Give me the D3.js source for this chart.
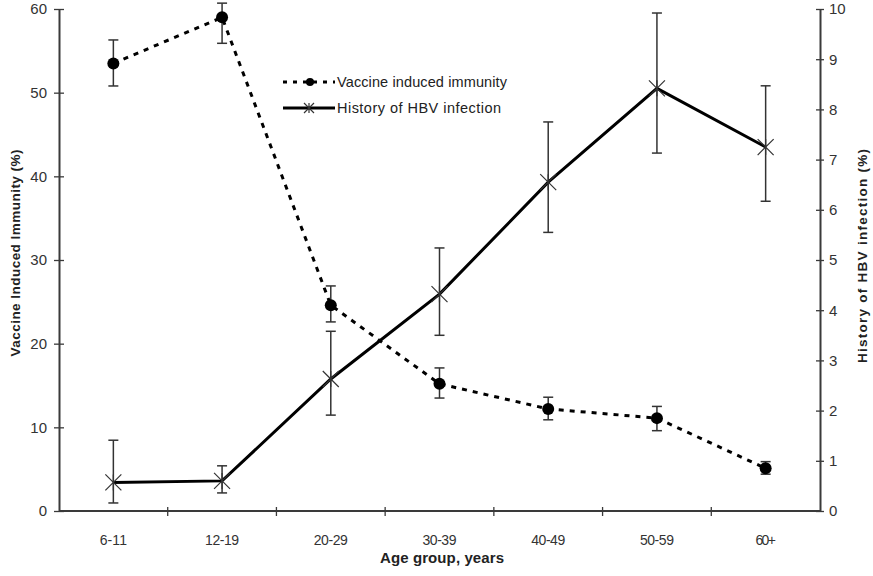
<!DOCTYPE html>
<html>
<head>
<meta charset="utf-8">
<script src="https://cdn.jsdelivr.net/npm/d3@7"></script>
<style>
  body { margin: 0; background: #fff; }
  svg { display: block; font-family: "Liberation Sans", Arial, sans-serif; }
</style>
</head>
<body>
<svg id="chart" width="873" height="576"></svg>
<script>
// age groups on the x axis
const ageGroups = ["6-11", "12-19", "20-29", "30-39", "40-49", "50-59", "60+"];

// vaccine induced immunity (%), left axis
const vaccine = [53.5, 59.0, 24.6, 15.2, 12.2, 11.1, 5.1];
const vaccineLow = [50.8, 55.9, 22.6, 13.5, 10.9, 9.6, 4.4];
const vaccineHigh = [56.3, 60.7, 26.9, 17.1, 13.6, 12.5, 5.9];

// history of HBV infection (%), right axis
const hbv = [0.57, 0.6, 2.63, 4.32, 6.55, 8.42, 7.25];
const hbvLow = [0.16, 0.36, 1.91, 3.5, 5.55, 7.13, 6.17];
const hbvHigh = [1.41, 0.9, 3.58, 5.24, 7.75, 9.92, 8.47];

const leftTicks = [0, 10, 20, 30, 40, 50, 60];
const rightTicks = [0, 1, 2, 3, 4, 5, 6, 7, 8, 9, 10];

const margin = { top: 9, right: 53, bottom: 65, left: 59 },
  width = 873,
  height = 576;

const svg = d3.select("#chart");
const axisColor = "#3a3a3a";

const x = d3.scaleBand(ageGroups, [margin.left, width - margin.right]).padding(0);
const cx = (d) => x(d) + x.bandwidth() / 2;
const yL = d3.scaleLinear([0, 60], [height - margin.bottom, margin.top]);
const yR = d3.scaleLinear([0, 10], [height - margin.bottom, margin.top]);

// x axis: ticks between categories
const xAxis = svg.append("g")
  .attr("transform", `translate(0,${height - margin.bottom})`);
xAxis.append("line")
  .attr("x1", margin.left).attr("x2", width - margin.right)
  .attr("stroke", axisColor).attr("stroke-width", 2);
xAxis.selectAll(".xt")
  .data(ageGroups.slice(1))
  .join("line")
  .attr("x1", (d) => x(d)).attr("x2", (d) => x(d))
  .attr("y1", -4).attr("y2", 5)
  .attr("stroke", axisColor).attr("stroke-width", 1.3);
xAxis.selectAll("text")
  .data(ageGroups)
  .join("text")
  .attr("x", cx).attr("y", 34)
  .attr("text-anchor", "middle")
  .attr("font-size", 14).attr("fill", "#333")
  .attr("textLength", (d) => d.length * 6.8)
  .text((d) => d);

// left axis
svg.append("g")
  .attr("transform", `translate(${margin.left},0)`)
  .call(d3.axisLeft(yL).tickValues(leftTicks).tickSize(0).tickPadding(12))
  .call((g) => g.select(".domain").attr("stroke", axisColor).attr("stroke-width", 2))
  .call((g) => g.selectAll(".tick line").clone()
    .attr("x1", -5).attr("x2", 5).attr("stroke", axisColor).attr("stroke-width", 1.3))
  .call((g) => g.selectAll(".tick text").attr("font-size", 15).attr("fill", "#333"));

// right axis
svg.append("g")
  .attr("transform", `translate(${width - margin.right},0)`)
  .call(d3.axisRight(yR).tickValues(rightTicks).tickSize(0).tickPadding(9))
  .call((g) => g.select(".domain").attr("stroke", axisColor).attr("stroke-width", 2))
  .call((g) => g.selectAll(".tick line").clone()
    .attr("x1", -4).attr("x2", 4).attr("stroke", axisColor).attr("stroke-width", 1.3))
  .call((g) => g.selectAll(".tick text").attr("font-size", 15).attr("fill", "#333"));

// axis titles
svg.append("text")
  .attr("transform", "translate(16,253) rotate(-90)")
  .attr("text-anchor", "middle").attr("dominant-baseline", "middle")
  .attr("font-size", 13.5).attr("font-weight", "bold").attr("fill", "#222")
  .attr("textLength", 207)
  .text("Vaccine Induced Immunity (%)");
svg.append("text")
  .attr("transform", "translate(863,256) rotate(-90)")
  .attr("text-anchor", "middle").attr("dominant-baseline", "middle")
  .attr("font-size", 13.5).attr("font-weight", "bold").attr("fill", "#222")
  .attr("textLength", 214)
  .text("History of HBV infection (%)");
svg.append("text")
  .attr("x", 442).attr("y", 563)
  .attr("text-anchor", "middle")
  .attr("font-size", 15).attr("font-weight", "bold").attr("fill", "#222")
  .attr("textLength", 124)
  .text("Age group, years");

// error bars
function errorBars(lo, hi, scale) {
  const g = svg.append("g").attr("stroke", "#333").attr("stroke-width", 1.5);
  ageGroups.forEach((d, i) => {
    g.append("line").attr("x1", cx(d)).attr("x2", cx(d))
      .attr("y1", scale(lo[i])).attr("y2", scale(hi[i]));
    [lo[i], hi[i]].forEach((v) => {
      g.append("line").attr("x1", cx(d) - 5).attr("x2", cx(d) + 5)
        .attr("y1", scale(v)).attr("y2", scale(v));
    });
  });
}
errorBars(vaccineLow, vaccineHigh, yL);
errorBars(hbvLow, hbvHigh, yR);

// vaccine series (dashed)
const lineL = d3.line().x((d, i) => cx(ageGroups[i])).y((d) => yL(d));
svg.append("path")
  .attr("d", lineL(vaccine))
  .attr("fill", "none").attr("stroke", "#000")
  .attr("stroke-width", 3).attr("stroke-dasharray", "5,6");
svg.selectAll(".dot")
  .data(vaccine)
  .join("circle")
  .attr("cx", (d, i) => cx(ageGroups[i])).attr("cy", (d) => yL(d))
  .attr("r", 6).attr("fill", "#000");

// HBV series (solid)
const lineR = d3.line().x((d, i) => cx(ageGroups[i])).y((d) => yR(d));
svg.append("path")
  .attr("d", lineR(hbv))
  .attr("fill", "none").attr("stroke", "#000").attr("stroke-width", 3);

function star(g, px, py, s) {
  g.append("path")
    .attr("d", `M${px - s},${py - s}L${px + s},${py + s}M${px - s},${py + s}L${px + s},${py - s}M${px},${py - s}L${px},${py + s}`)
    .attr("stroke", "#333").attr("stroke-width", 1.2).attr("fill", "none");
}
const stars = svg.append("g");
hbv.forEach((d, i) => star(stars, cx(ageGroups[i]), yR(d), 8));

// legend
const leg = svg.append("g").attr("transform", "translate(283,82)");
leg.append("line").attr("x1", 0).attr("x2", 52)
  .attr("stroke", "#000").attr("stroke-width", 3).attr("stroke-dasharray", "4,6");
leg.append("circle").attr("cx", 27).attr("cy", 0).attr("r", 4).attr("fill", "#000");
leg.append("text").attr("x", 54).attr("y", 5)
  .attr("font-size", 14.5).attr("fill", "#222")
  .attr("textLength", 170)
  .text("Vaccine induced immunity");
leg.append("line").attr("x1", 0).attr("x2", 52).attr("y1", 26).attr("y2", 26)
  .attr("stroke", "#000").attr("stroke-width", 3);
star(leg, 26, 26, 5);
leg.append("text").attr("x", 54).attr("y", 31)
  .attr("font-size", 14.5).attr("fill", "#222")
  .attr("textLength", 164)
  .text("History of HBV infection");
</script>
</body>
</html>
